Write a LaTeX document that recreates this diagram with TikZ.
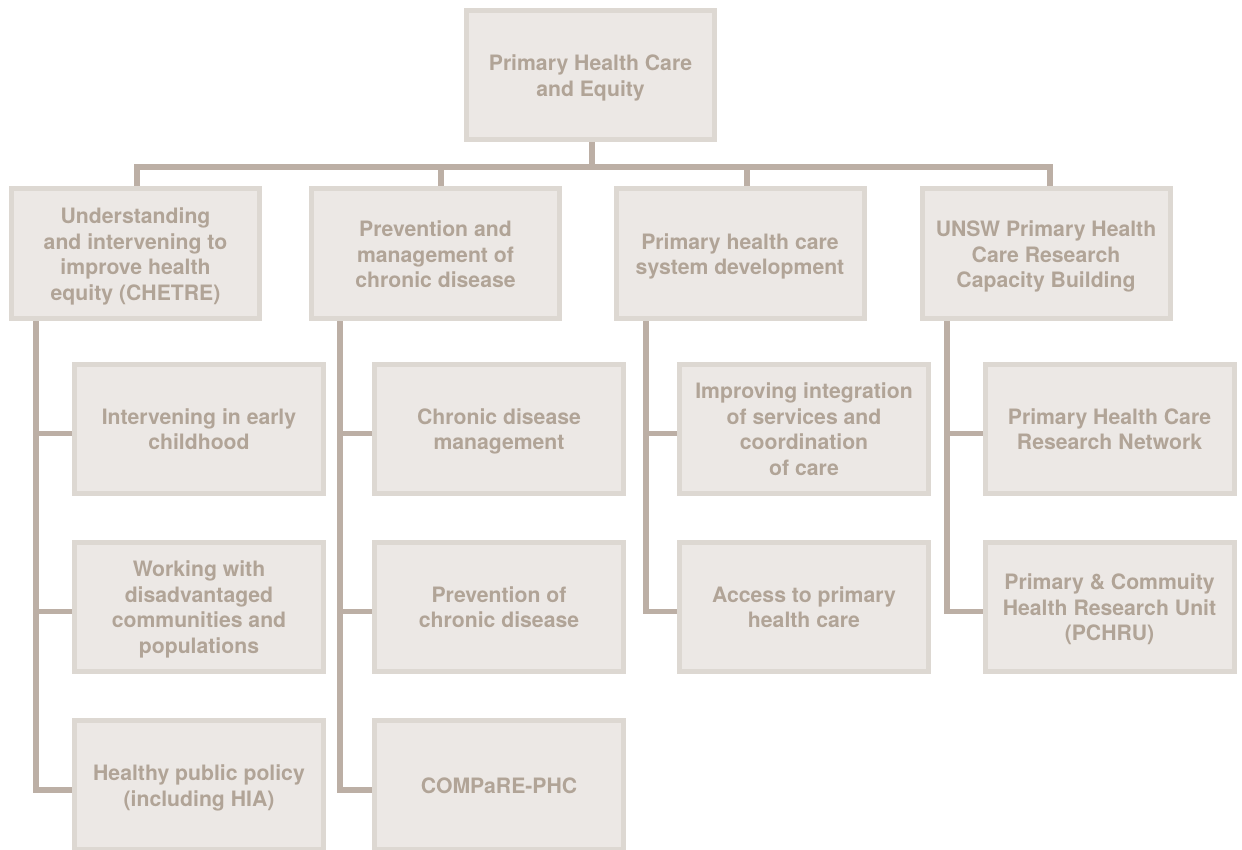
\documentclass[tikz,border=0pt]{standalone}
\usepackage{fontspec}
\setmainfont{TeX Gyre Heros}
\definecolor{boxfill}{HTML}{ECE8E5}
\definecolor{boxline}{HTML}{DDD8D2}
\definecolor{txtcol}{HTML}{B1A497}
\definecolor{conncol}{HTML}{BCAFA5}
\newcommand\boxtext[1]{\raisebox{-3.5pt}[\height][\depth]{\begin{tabular}{@{}c@{}}#1\end{tabular}}}
\begin{document}
\begin{tikzpicture}[x=1pt,y=-1pt,
  box/.style={draw=boxline, fill=boxfill, line width=5pt, inner sep=0pt,
    minimum width=249pt, minimum height=129pt, text=txtcol,
    font=\fontsize{21.2}{25.6}\selectfont\bfseries},
  lvl/.style={box, minimum width=248pt, minimum height=130pt},
  link/.style={draw=conncol, line width=5.5pt, line join=miter}]
\useasboundingbox (0,0) rectangle (1242,850);
% top
\node[box, minimum width=248pt] (top) at (590.5,75) {\boxtext{Primary Health Care\\and Equity}};
% level 1
\node[lvl] (b1) at (135.5,253.5) {\boxtext{Understanding\\and intervening to\\improve health\\equity (CHETRE)}};
\node[lvl] (b2) at (435.5,253.5) {\boxtext{Prevention and\\management of\\chronic disease}};
\node[lvl] (b3) at (740,253.5) {\boxtext{Primary health care\\system development}};
\node[lvl] (b4) at (1046,253.5) {\boxtext{UNSW Primary Health\\Care Research\\Capacity Building}};
% children
\node[box] (c11) at (199,428.5) {\boxtext{Intervening in early\\childhood}};
\node[box] (c12) at (199,606.5) {\boxtext{Working with\\disadvantaged\\communities and\\populations}};
\node[box] (c13) at (199,785) {\boxtext{Healthy public policy\\(including HIA)}};
\node[box] (c21) at (499,428.5) {\boxtext{Chronic disease\\management}};
\node[box] (c22) at (499,606.5) {\boxtext{Prevention of\\chronic disease}};
\node[box] (c23) at (499,785) {\boxtext{COMPaRE-PHC}};
\node[box] (c31) at (804,428.5) {\boxtext{Improving integration\\of services and\\coordination\\of care}};
\node[box] (c32) at (804,606.5) {\boxtext{Access to primary\\health care}};
\node[box] (c41) at (1109.5,428.5) {\boxtext{Primary Health Care\\Research Network}};
\node[box] (c42) at (1109.5,606.5) {\boxtext{Primary \& Commuity\\Health Research Unit\\(PCHRU)}};
% connector coordinates
\coordinate (d0) at (592,167);
\coordinate (d1) at (137,167);
\coordinate (d2) at (441,167);
\coordinate (d3) at (747,167);
\coordinate (d4) at (1050,167);
\coordinate (v1) at (36,0);
\coordinate (v2) at (340,0);
\coordinate (v3) at (646,0);
\coordinate (v4) at (947,0);
% top links
\draw[link] (top.south -| d0) -- (d0);
\draw[link] (d1 |- b1.north) -- (d1) -- (d4) -- (d4 |- b4.north);
\draw[link] (d2) -- (d2 |- b2.north);
\draw[link] (d3) -- (d3 |- b3.north);
% column 1
\draw[link] (b1.south -| v1) |- ([yshift=-5pt]c13.west);
\draw[link] ([yshift=-5pt]c11.west) -- ([yshift=-5pt]c11.west -| v1);
\draw[link] ([yshift=-5pt]c12.west) -- ([yshift=-5pt]c12.west -| v1);
% column 2
\draw[link] (b2.south -| v2) |- ([yshift=-5pt]c23.west);
\draw[link] ([yshift=-5pt]c21.west) -- ([yshift=-5pt]c21.west -| v2);
\draw[link] ([yshift=-5pt]c22.west) -- ([yshift=-5pt]c22.west -| v2);
% column 3
\draw[link] (b3.south -| v3) |- ([yshift=-5pt]c32.west);
\draw[link] ([yshift=-5pt]c31.west) -- ([yshift=-5pt]c31.west -| v3);
% column 4
\draw[link] (b4.south -| v4) |- ([yshift=-5pt]c42.west);
\draw[link] ([yshift=-5pt]c41.west) -- ([yshift=-5pt]c41.west -| v4);
\end{tikzpicture}
\end{document}
